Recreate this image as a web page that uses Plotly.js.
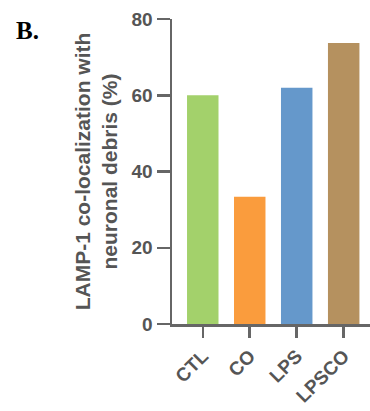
<!DOCTYPE html>
<html>
<head>
<meta charset="utf-8">
<script src="https://cdn.plot.ly/plotly-3.0.1.min.js"></script>
<style>
html,body{margin:0;padding:0;background:#fff;}
#chart{width:370px;height:411px;}
</style>
</head>
<body>
<div id="chart"></div>
<script>
const categories = ["CTL", "CO", "LPS", "LPSCO"];
const values = [60, 33.4, 62, 73.7];
const barColors = ["#a3d16b", "#fa9c3d", "#6598cb", "#b5915f"];
const yTickVals = [0, 20, 40, 60, 80];

const axisColor = "#666666";
const textColor = "#555555";
const fontFam = "Liberation Sans, Arial, sans-serif";

const trace = {
  type: "bar",
  x: categories,
  y: values,
  marker: {color: barColors, line: {width: 0}},
  hoverinfo: "none"
};

const layout = {
  width: 370,
  height: 411,
  margin: {l: 172, r: 0, t: 19, b: 87, pad: 0},
  paper_bgcolor: "#ffffff",
  plot_bgcolor: "#ffffff",
  showlegend: false,
  bargap: 0.33,
  font: {family: fontFam, color: textColor},
  xaxis: {
    type: "category",
    range: [-0.655, 3.56],
    showline: true,
    linecolor: axisColor,
    linewidth: 2.5,
    showgrid: false,
    zeroline: false,
    ticks: "outside",
    ticklen: 11,
    tickwidth: 2.5,
    tickcolor: axisColor,
    tickangle: -45,
    tickfont: {family: fontFam, size: 19, color: textColor, weight: "bold"}
  },
  yaxis: {
    range: [0, 80],
    tickvals: yTickVals,
    showline: true,
    linecolor: axisColor,
    linewidth: 2.5,
    showgrid: false,
    zeroline: false,
    ticks: "outside",
    ticklen: 13,
    tickwidth: 2.5,
    tickcolor: axisColor,
    tickfont: {family: fontFam, size: 19, color: textColor, weight: "bold"},
    title: {
      text: "LAMP-1 co-localization with<br>neuronal debris (%)",
      font: {family: fontFam, size: 21, color: textColor, weight: "bold"},
      standoff: 8
    }
  },
  annotations: [{
    text: "<b>B.</b>",
    xref: "paper", yref: "paper",
    x: -0.732, y: 0.962,
    xanchor: "center", yanchor: "middle",
    showarrow: false,
    font: {family: "Liberation Serif, Times New Roman, serif", size: 25, color: "#000000"}
  }]
};

Plotly.newPlot("chart", [trace], layout, {staticPlot: true, displayModeBar: false});
</script>
</body>
</html>
